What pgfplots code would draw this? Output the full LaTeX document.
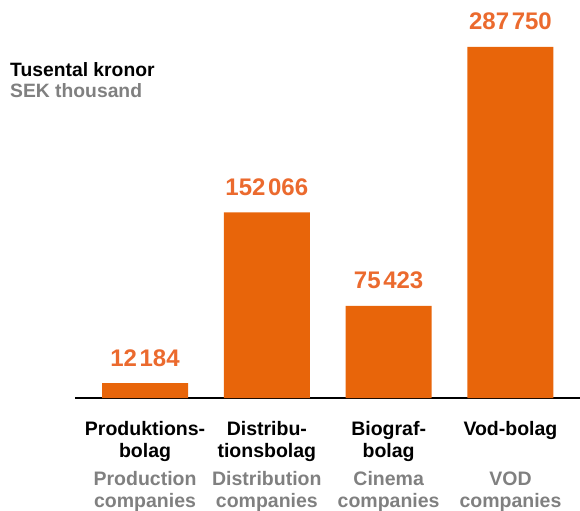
\documentclass[border=0pt]{standalone}
\usepackage{pgfplots}
\pgfplotsset{compat=1.18}
\usepackage{fontspec}
\setmainfont{Liberation Sans}
\definecolor{barorange}{HTML}{E8650A}
\definecolor{valorange}{HTML}{EB6A2E}
\definecolor{labgray}{HTML}{808080}
\newcommand{\ts}{\hspace{0.11em}}
\begin{document}
\begin{tikzpicture}
\begin{axis}[
  at={(75bp,113bp)}, anchor=south west,
  scale only axis, width=505bp, height=366bp,
  xmin=-0.575, xmax=3.571, ymin=0, ymax=300000,
  axis x line=bottom, axis y line=none,
  x axis line style={line width=2.8bp, black, -},
  xtick={0,1,2,3}, major tick length=0pt,
  xticklabels={
    {Produktions-\\bolag\\[6.5bp]{\color{labgray}Production}\\{\color{labgray}companies}},
    {Distribu-\\tionsbolag\\[6.5bp]{\color{labgray}Distribution}\\{\color{labgray}companies}},
    {Biograf-\\bolag\\[6.5bp]{\color{labgray}Cinema}\\{\color{labgray}companies}},
    {Vod-bolag\\\mbox{}\\[6.5bp]{\color{labgray}VOD}\\{\color{labgray}companies}}},
  xticklabel style={anchor=north, align=center, inner sep=0pt, yshift=-23bp,
    font=\fontsize{19.5bp}{22bp}\selectfont\bfseries},
  ytick=\empty,
  ybar, bar width=86bp, bar shift=0pt,
  point meta=explicit symbolic,
  nodes near coords,
  nodes near coords style={anchor=base, inner sep=0pt, yshift=17bp,
    font=\fontsize{24bp}{28bp}\selectfont\bfseries, text=valorange},
  clip=false,
]
\addplot[fill=barorange, draw=none] coordinates {
  (0,12184) [12\ts184]
  (1,152066) [152\ts066]
  (2,75423) [75\ts423]
  (3,287750) [287\ts750]};
\end{axis}
\node[anchor=base west, inner sep=0pt, font=\fontsize{19.3bp}{22bp}\selectfont\bfseries] at (10bp,434bp) {Tusental kronor};
\node[anchor=base west, inner sep=0pt, font=\fontsize{19.3bp}{22bp}\selectfont\bfseries, text=labgray] at (10bp,413bp) {SEK thousand};
\pgfresetboundingbox
\path[use as bounding box] (0,0) rectangle (580bp,511bp);
\end{tikzpicture}
\end{document}
